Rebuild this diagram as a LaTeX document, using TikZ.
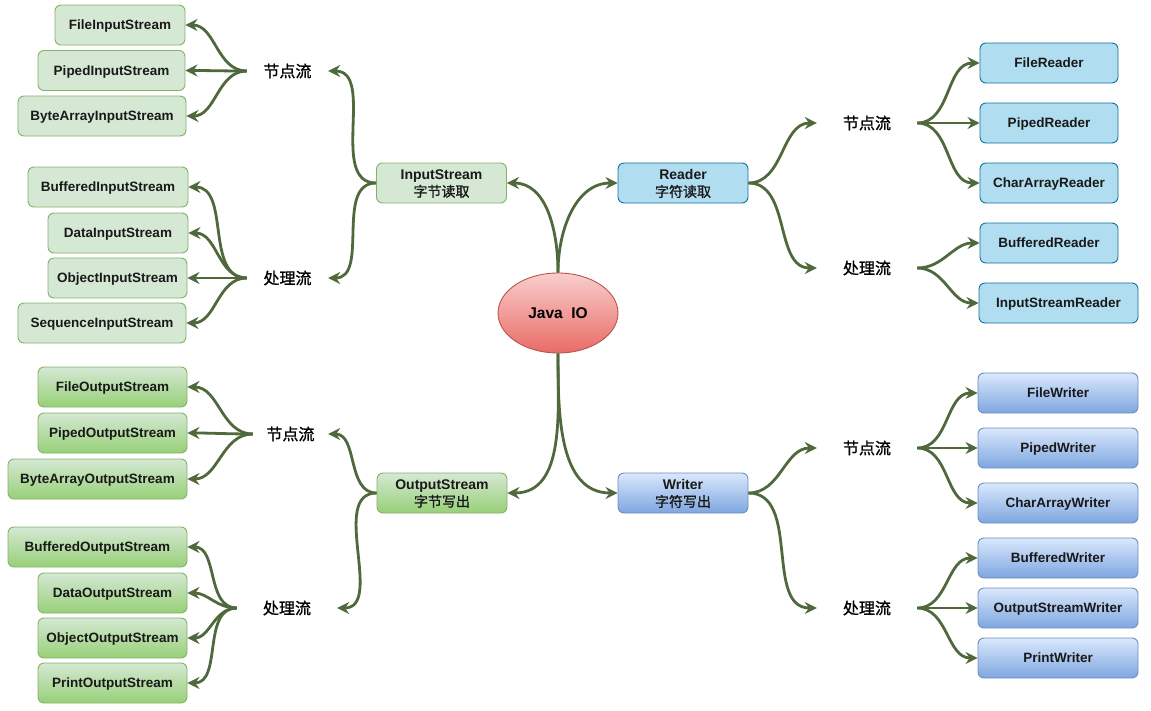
\documentclass[tikz,border=0pt]{standalone}
\usepackage{fontspec}
\setmainfont{Liberation Sans}
\newfontfamily\cjk[FakeBold=1.2]{Noto Sans CJK SC}
\usetikzlibrary{arrows.meta,shapes.geometric}
\definecolor{conn}{HTML}{50693C}
\definecolor{inFill}{HTML}{D5E8D4}
\definecolor{inLine}{HTML}{82B366}
\definecolor{outBot}{HTML}{97D077}
\definecolor{rdFill}{HTML}{B1DDF0}
\definecolor{rdLine}{HTML}{10739E}
\definecolor{wrTop}{HTML}{DAE8FC}
\definecolor{wrBot}{HTML}{7EA6E0}
\definecolor{wrLine}{HTML}{6C8EBF}
\definecolor{jTop}{HTML}{F8CECC}
\definecolor{jBot}{HTML}{EA6B66}
\definecolor{jLine}{HTML}{B85450}
\tikzset{
  box/.style={rectangle, rounded corners=6pt, line width=0.9pt, minimum height=40pt, inner sep=0pt,
    font=\fontsize{13.5}{15}\selectfont\bfseries, text=black!90, align=center, text depth=0pt},
  inbox/.style={box, draw=inLine, fill=inFill},
  outbox/.style={box, draw=inLine, top color=inFill, bottom color=outBot},
  rdbox/.style={box, draw=rdLine, fill=rdFill},
  wrbox/.style={box, draw=wrLine, top color=wrTop, bottom color=wrBot},
  midbox/.style={minimum width=130pt, font=\fontsize{14}{17.5}\selectfont\bfseries, text depth=0pt},
  lbl/.style={rectangle, inner sep=0pt, minimum height=30pt, font=\cjk\fontsize{16}{18}\selectfont},
  conn/.style={draw=conn, line width=2.8pt, -{Stealth[length=12pt,width=12pt,inset=4pt]}},
}
\begin{document}
\begin{tikzpicture}[x=1pt,y=-1pt]
\useasboundingbox (0,0) rectangle (1151,710);
% centre
\node[ellipse, draw=jLine, line width=0.9pt, top color=jTop, bottom color=jBot, minimum width=120pt, minimum height=80pt, inner sep=0pt,
  font=\fontsize{15.5}{17}\selectfont\bfseries] (java) at (558,313) {Java\ \ IO};
% main boxes
\node[inbox, midbox] (is) at (441.5,183) {InputStream\\{\cjk\mdseries 字节读取}};
\node[rdbox, midbox] (rd) at (683,183) {Reader\\{\cjk\mdseries 字符读取}};
\node[outbox, midbox] (os) at (442,493) {OutputStream\\{\cjk\mdseries 字节写出}};
\node[wrbox, midbox] (wr) at (683,493) {Writer\\{\cjk\mdseries 字符写出}};
% labels
\node[lbl, minimum width=81pt] (l1) at (287.5,71) {节点流};
\node[lbl, minimum width=81pt] (l2) at (287.5,278) {处理流};
\node[lbl, minimum width=75pt] (l3) at (290.5,434) {节点流};
\node[lbl, minimum width=100pt] (l4) at (287,608) {处理流};
\node[lbl, minimum width=100pt] (r1) at (867,123) {节点流};
\node[lbl, minimum width=100pt] (r2) at (867,268) {处理流};
\node[lbl, minimum width=100pt] (r3) at (867,448) {节点流};
\node[lbl, minimum width=100pt] (r4) at (867,608) {处理流};
% input leaves
\node[inbox, minimum width=130pt] (fis) at (120,25) {FileInputStream};
\node[inbox, minimum width=147pt] (pis) at (111.5,70.5) {PipedInputStream};
\node[inbox, minimum width=168pt] (bais) at (102,116) {ByteArrayInputStream};
\node[inbox, minimum width=160pt] (bis) at (108,187) {BufferedInputStream};
\node[inbox, minimum width=140pt] (dis) at (118,233) {DataInputStream};
\node[inbox, minimum width=139pt] (ois) at (117.5,278) {ObjectInputStream};
\node[inbox, minimum width=168pt] (sis) at (102,323) {SequenceInputStream};
% output leaves
\node[outbox, minimum width=149pt] (fos) at (112.5,387) {FileOutputStream};
\node[outbox, minimum width=149pt] (pos) at (112.5,433) {PipedOutputStream};
\node[outbox, minimum width=179pt] (baos) at (97.5,479) {ByteArrayOutputStream};
\node[outbox, minimum width=179pt] (bos) at (97.5,547) {BufferedOutputStream};
\node[outbox, minimum width=149pt] (dos) at (112.5,593) {DataOutputStream};
\node[outbox, minimum width=149pt] (oos) at (112.5,638) {ObjectOutputStream};
\node[outbox, minimum width=149pt] (pros) at (112.5,683) {PrintOutputStream};
% reader leaves
\node[rdbox, minimum width=138pt] (fr) at (1049,63) {FileReader};
\node[rdbox, minimum width=138pt] (pr) at (1049,123) {PipedReader};
\node[rdbox, minimum width=138pt] (car) at (1049,183) {CharArrayReader};
\node[rdbox, minimum width=138pt] (br) at (1049,243) {BufferedReader};
\node[rdbox, minimum width=159pt] (isr) at (1058.5,303) {InputStreamReader};
% writer leaves
\node[wrbox, minimum width=160pt] (fw) at (1058,393) {FileWriter};
\node[wrbox, minimum width=160pt] (pw) at (1058,448) {PipedWriter};
\node[wrbox, minimum width=160pt] (caw) at (1058,503) {CharArrayWriter};
\node[wrbox, minimum width=160pt] (bw) at (1058,558) {BufferedWriter};
\node[wrbox, minimum width=160pt] (osw) at (1058,608) {OutputStreamWriter};
\node[wrbox, minimum width=160pt] (pwr) at (1058,658) {PrintWriter};
% connectors: centre
\draw[conn] (java.north) to[out=90,in=0] (is.east);
\draw[conn] (java.north) to[out=90,in=180] (rd.west);
\draw[conn] (java.south) to[out=-90,in=0] (os.east);
\draw[conn] (java.south) to[out=-90,in=180] (wr.west);
% main to labels
\draw[conn] (is.west) to[out=180,in=0] (l1.east);
\draw[conn] (is.west) to[out=180,in=0] (l2.east);
\draw[conn] (os.west) to[out=180,in=0] (l3.east);
\draw[conn] (os.west) to[out=180,in=0] (l4.east);
\draw[conn] (rd.east) to[out=0,in=180] (r1.west);
\draw[conn] (rd.east) to[out=0,in=180] (r2.west);
\draw[conn] (wr.east) to[out=0,in=180] (r3.west);
\draw[conn] (wr.east) to[out=0,in=180] (r4.west);
% labels to leaves (left)
\foreach \a/\b in {l1/fis,l1/pis,l1/bais,l2/bis,l2/dis,l2/ois,l2/sis,
                   l3/fos,l3/pos,l3/baos,l4/bos,l4/dos,l4/oos,l4/pros}
  \draw[conn] (\a.west) to[out=180,in=0] (\b.east);
% labels to leaves (right)
\foreach \a/\b in {r1/fr,r1/pr,r1/car,r2/br,r2/isr,
                   r3/fw,r3/pw,r3/caw,r4/bw,r4/osw,r4/pwr}
  \draw[conn] (\a.east) to[out=0,in=180] (\b.west);
\end{tikzpicture}
\end{document}
